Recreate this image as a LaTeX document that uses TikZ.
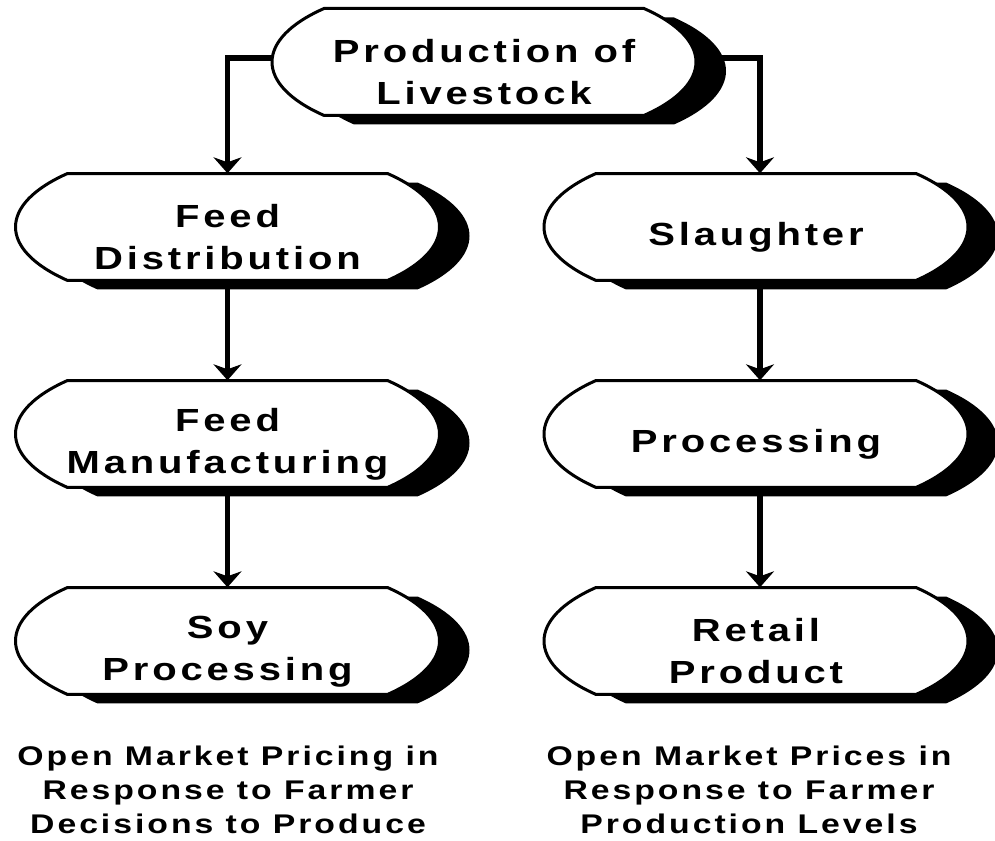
\documentclass[tikz,border=0pt]{standalone}
\usepackage{fontspec}
\setmainfont{Liberation Sans}
\newfontfamily\stagefamily{Liberation Sans}[FakeStretch=1.25, LetterSpace=12]
\newfontfamily\notefamily{Liberation Sans}[FakeStretch=1.25, LetterSpace=11]
\usetikzlibrary{arrows.meta, backgrounds}

% outline of a stage: an oval cut flat at top and bottom, with its shadow
\newcommand{\stageshape}[1]{%
  \fill[black] ([shift={(30pt,-9pt)}]#1.center) ++(-160pt,53.5pt) -- ++(320pt,0pt)
    arc[start angle=41, end angle=-41, x radius=212pt, y radius=81.5pt]
    -- ++(-320pt,0pt)
    arc[start angle=221, end angle=139, x radius=212pt, y radius=81.5pt] -- cycle;
  \draw[line width=3pt, fill=white] (#1.center) ++(-160pt,53.5pt) -- ++(320pt,0pt)
    arc[start angle=41, end angle=-41, x radius=212pt, y radius=81.5pt]
    -- ++(-320pt,0pt)
    arc[start angle=221, end angle=139, x radius=212pt, y radius=81.5pt] -- cycle;}
% sets the text of a stage a little below its middle
\newcommand{\lowered}{\rule{0pt}{44pt}}

\begin{document}
\begin{tikzpicture}[
    x=1pt, y=-1pt,
    % Styles for each node type
    stage/.style={rectangle, align=center, inner sep=0pt, minimum width=424pt, minimum height=107pt, font=\stagefamily\bfseries\fontsize{32}{42}\selectfont},
    note/.style={align=center, inner sep=0pt, font=\notefamily\bfseries\fontsize{27}{34}\selectfont},
    arrow/.style={line width=5.5pt, -{Stealth[length=16pt, width=28pt, inset=5pt]}, black}
]
\useasboundingbox (0,0) rectangle (995,840);

% Top stage
\node[stage] (livestock) at (484,62) {\lowered Production of\\Livestock};

% Feed side
\node[stage] (feeddist) at (227.5,227) {\lowered Feed\\Distribution};
\node[stage] (feedmfg)  at (227.5,434) {\lowered Feed\\Manufacturing};
\node[stage] (soy)      at (227.5,641) {\lowered Soy\\Processing};

% Meat side
\node[stage] (slaughter)  at (756,227) {\lowered Slaughter};
\node[stage] (processing) at (756,434) {\lowered Processing};
\node[stage] (retail)     at (756,641) {\lowered Retail\\Product};

% Notes under each side
\node[note] (feednote) at (228,790) {Open Market Pricing in\\Response to Farmer\\Decisions to Produce};
\node[note] (meatnote) at (749,790) {Open Market Prices in\\Response to Farmer\\Production Levels};

% Shapes behind the text
\begin{scope}[on background layer]
\stageshape{livestock}
\stageshape{feeddist}
\stageshape{feedmfg}
\stageshape{soy}
\stageshape{slaughter}
\stageshape{processing}
\stageshape{retail}
\end{scope}

% Top stage to both sides
\draw[arrow] ([yshift=4pt]livestock.west) -| (feeddist.north);
\draw[arrow] ([yshift=4pt]livestock.east) -| ([xshift=4pt]slaughter.north);

% Down the feed side
\draw[arrow] (feeddist.south) -- (feedmfg.north);
\draw[arrow] (feedmfg.south) -- (soy.north);

% Down the meat side
\draw[arrow] ([xshift=4pt]slaughter.south) -- ([xshift=4pt]processing.north);
\draw[arrow] ([xshift=4pt]processing.south) -- ([xshift=4pt]retail.north);

\end{tikzpicture}
\end{document}
